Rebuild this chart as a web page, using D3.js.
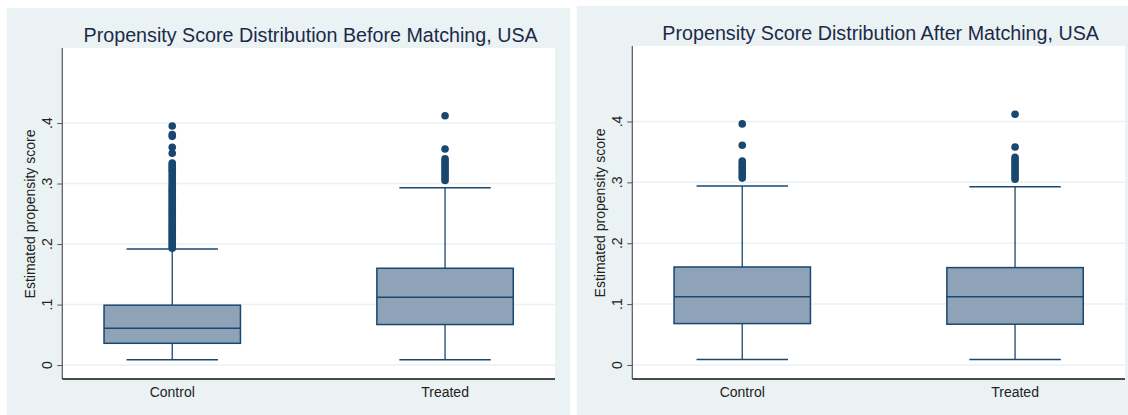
<!DOCTYPE html>
<html>
<head>
<meta charset="utf-8">
<script src="https://cdn.jsdelivr.net/npm/d3@7"></script>
<style>
  html, body { margin: 0; padding: 0; background: #fff; }
  svg { display: block; font-family: "Liberation Sans", Arial, sans-serif; }
</style>
</head>
<body>
<svg id="chart" width="1128" height="415"></svg>
<script>
// groups and ticks
const groups = ["Control", "Treated"];
const yTicks = [0, 0.1, 0.2, 0.3, 0.4];
const yTickLabels = ["0", ".1", ".2", ".3", ".4"];
const titles = [
  "Propensity Score Distribution Before Matching, USA",
  "Propensity Score Distribution After Matching, USA"
];
const yLabel = "Estimated propensity score";

// box stats: [lower whisker, q1, median, q3, upper whisker]
const beforeControlStats = [0.009, 0.036, 0.061, 0.099, 0.192];
const beforeTreatedStats = [0.009, 0.067, 0.112, 0.160, 0.293];
const afterControlStats  = [0.009, 0.068, 0.112, 0.161, 0.294];
const afterTreatedStats  = [0.009, 0.067, 0.112, 0.160, 0.293];

// outside values
const beforeControlOutliers = [
  0.193, 0.196, 0.199, 0.202, 0.205, 0.208, 0.211, 0.214, 0.217, 0.220,
  0.223, 0.226, 0.229, 0.232, 0.235, 0.238, 0.241, 0.244, 0.247, 0.250,
  0.253, 0.256, 0.259, 0.262, 0.265, 0.268, 0.271, 0.274, 0.277, 0.280,
  0.283, 0.286, 0.289, 0.292, 0.295, 0.299, 0.303, 0.307, 0.311, 0.315,
  0.319, 0.322, 0.325, 0.328, 0.331, 0.334, 0.350, 0.360, 0.378, 0.381, 0.395
];
const beforeTreatedOutliers = [0.305, 0.309, 0.313, 0.317, 0.321, 0.325, 0.329, 0.333, 0.337, 0.341, 0.357, 0.412];
const afterControlOutliers  = [0.307, 0.311, 0.315, 0.319, 0.323, 0.327, 0.331, 0.335, 0.361, 0.396];
const afterTreatedOutliers  = [0.305, 0.309, 0.313, 0.317, 0.321, 0.325, 0.329, 0.333, 0.337, 0.341, 0.358, 0.412];

const NAVY = "#1a476f";
const BOX_FILL = "#8ea3b7";
const PANEL_BG = "#eaf2f3";

const svg = d3.select("#chart");

function drawPanel(p) {
  const g = svg.append("g");

  // panel background
  g.append("rect")
    .attr("x", p.bg[0]).attr("y", p.bg[1])
    .attr("width", p.bg[2]).attr("height", p.bg[3])
    .attr("fill", PANEL_BG);

  // plot region
  g.append("rect")
    .attr("x", p.left).attr("y", p.top)
    .attr("width", p.right - p.left).attr("height", p.bottom - p.top)
    .attr("fill", "#fff");

  const y = d3.scaleLinear().domain([-0.023, 0.524]).range([p.bottom, p.top]);
  const x = d3.scalePoint().domain(groups).range([p.left, p.right]).padding(0.403);
  const step = x.step();
  const boxW = step * 0.5;
  const capW = step * 0.335;

  // gridlines
  g.selectAll(".grid").data(yTicks).join("line")
    .attr("x1", p.left).attr("x2", p.right)
    .attr("y1", d => y(d)).attr("y2", d => y(d))
    .attr("stroke", PANEL_BG).attr("stroke-width", 1.5);

  // y axis (ticks, no domain path; labels drawn rotated below)
  const yAxis = d3.axisLeft(y).tickValues(yTicks).tickSize(5).tickFormat("");
  const ay = g.append("g").attr("transform", `translate(${p.left},0)`).call(yAxis);
  ay.select(".domain").remove();
  ay.selectAll(".tick line").attr("stroke", "#555").attr("stroke-width", 1);

  g.selectAll(".ylab").data(yTicks).join("text")
    .attr("transform", (d) => `translate(${p.left - 10.5},${y(d)}) rotate(-90)`)
    .attr("text-anchor", "middle")
    .attr("font-size", 14)
    .attr("fill", "#222")
    .text((d, i) => yTickLabels[i]);

  g.append("line")
    .attr("x1", p.left).attr("x2", p.left)
    .attr("y1", p.top).attr("y2", p.bottom)
    .attr("stroke", "#555").attr("stroke-width", 1.2);
  g.append("line")
    .attr("x1", p.left).attr("x2", p.right)
    .attr("y1", p.bottom).attr("y2", p.bottom)
    .attr("stroke", "#111").attr("stroke-width", 1.5);

  // x labels
  g.selectAll(".xlab").data(groups).join("text")
    .attr("x", d => x(d)).attr("y", p.bottom + 18)
    .attr("text-anchor", "middle")
    .attr("font-size", 14)
    .attr("fill", "#222")
    .text(d => d);

  // axis title
  g.append("text")
    .attr("transform", `translate(${p.left - 27},${(p.top + p.bottom) / 2 + 0.5}) rotate(-90)`)
    .attr("text-anchor", "middle")
    .attr("font-size", 14)
    .attr("fill", "#222")
    .text(yLabel);

  // chart title
  g.append("text")
    .attr("x", (p.left + p.right) / 2 + 2).attr("y", p.top - 6)
    .attr("text-anchor", "middle")
    .attr("font-size", 19.7)
    .attr("fill", "#1c2a4a")
    .text(p.title);

  // boxes
  p.series.forEach((s, i) => {
    const cx = x(groups[i]);
    const [lo, q1, med, q3, hi] = s.stats;
    const bg = g.append("g");

    // whiskers
    bg.append("line").attr("x1", cx).attr("x2", cx).attr("y1", y(q3)).attr("y2", y(hi))
      .attr("stroke", NAVY).attr("stroke-width", 1.3);
    bg.append("line").attr("x1", cx).attr("x2", cx).attr("y1", y(q1)).attr("y2", y(lo))
      .attr("stroke", NAVY).attr("stroke-width", 1.3);
    [lo, hi].forEach(v => {
      bg.append("line")
        .attr("x1", cx - capW / 2).attr("x2", cx + capW / 2)
        .attr("y1", y(v)).attr("y2", y(v))
        .attr("stroke", NAVY).attr("stroke-width", 1.5);
    });

    bg.append("rect")
      .attr("x", cx - boxW / 2).attr("width", boxW)
      .attr("y", y(q3)).attr("height", y(q1) - y(q3))
      .attr("fill", BOX_FILL).attr("stroke", NAVY).attr("stroke-width", 1.5);
    bg.append("line")
      .attr("x1", cx - boxW / 2).attr("x2", cx + boxW / 2)
      .attr("y1", y(med)).attr("y2", y(med))
      .attr("stroke", NAVY).attr("stroke-width", 1.5);

    bg.selectAll("circle").data(s.outliers).join("circle")
      .attr("cx", cx).attr("cy", d => y(d)).attr("r", 3.8)
      .attr("fill", NAVY);
  });
}

drawPanel({
  bg: [7, 8, 563, 407],
  left: 62.3, right: 555, top: 48, bottom: 379,
  title: titles[0],
  series: [
    { stats: beforeControlStats, outliers: beforeControlOutliers },
    { stats: beforeTreatedStats, outliers: beforeTreatedOutliers }
  ]
});

drawPanel({
  bg: [576.7, 6, 551.3, 409],
  left: 632.3, right: 1125, top: 46, bottom: 379,
  title: titles[1],
  series: [
    { stats: afterControlStats, outliers: afterControlOutliers },
    { stats: afterTreatedStats, outliers: afterTreatedOutliers }
  ]
});
</script>
</body>
</html>
